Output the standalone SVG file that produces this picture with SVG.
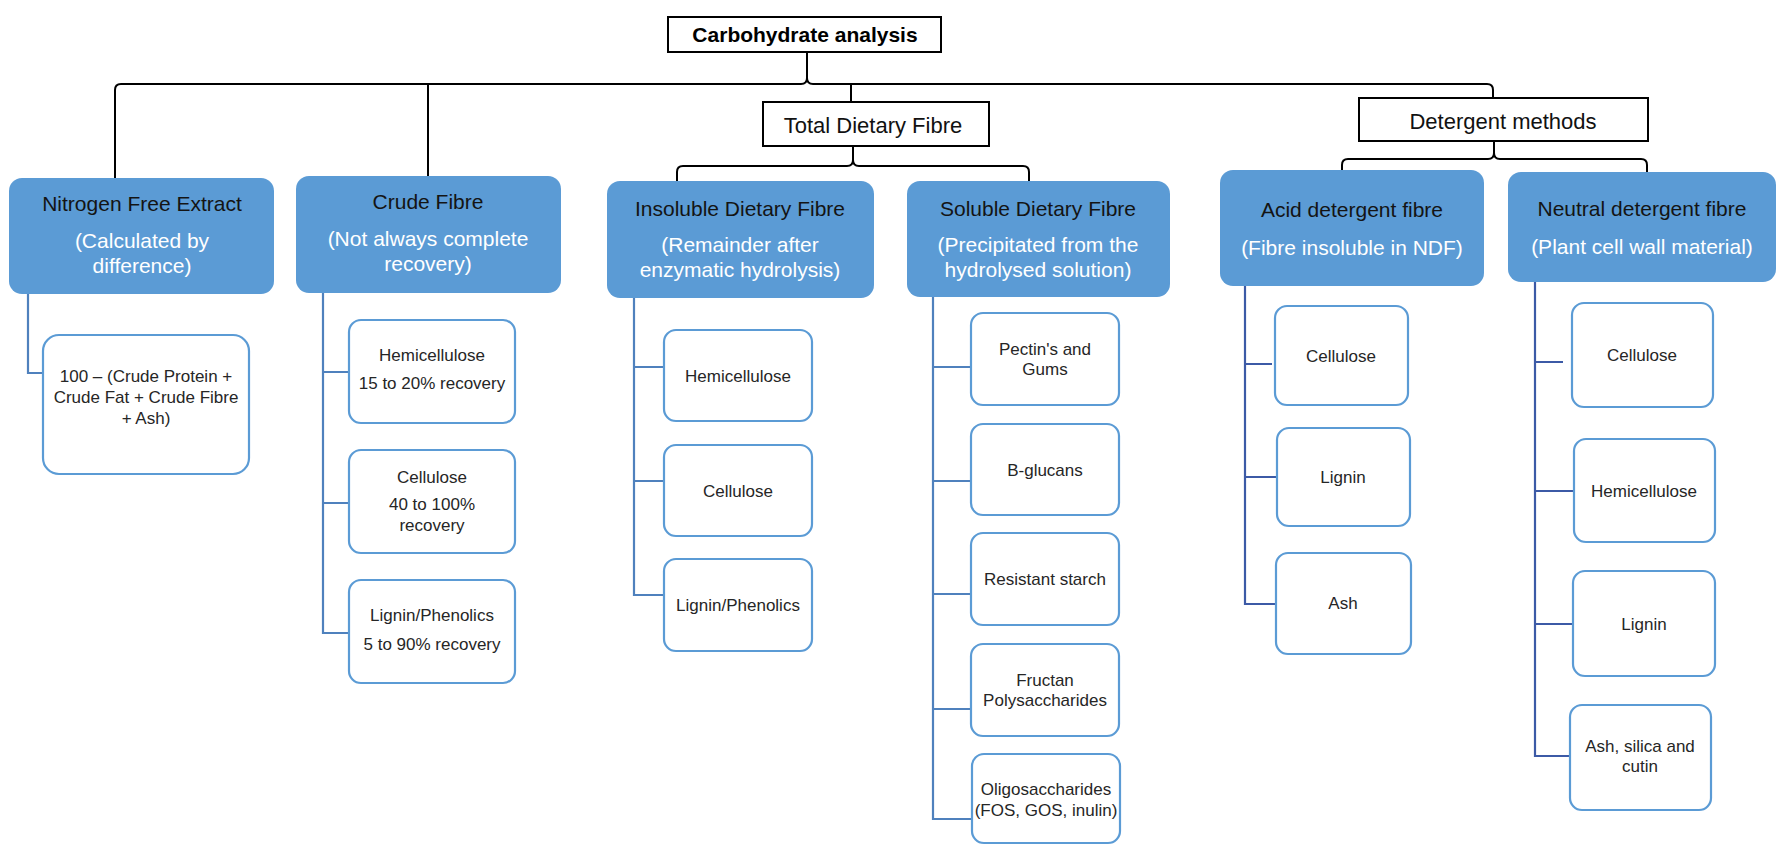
<svg xmlns="http://www.w3.org/2000/svg" width="1780" height="846" viewBox="0 0 1780 846">
  <style>
    text { font-family: "Liberation Sans", Arial, sans-serif; text-anchor: middle; }
    .root { fill: #fff; stroke: #000; stroke-width: 2; }
    .root-t { font-size: 21px; font-weight: bold; fill: #000; }
    .group { fill: #fff; stroke: #000; stroke-width: 2; }
    .group-t { font-size: 22px; fill: #111; }
    .head { fill: #5B9BD5; stroke: none; }
    .head-t { font-size: 21px; fill: #141414; }
    .head-s { font-size: 21px; fill: #ffffff; }
    .leaf { fill: #fff; stroke: #5B9BD5; stroke-width: 2.2; }
    .leaf-t { font-size: 17px; fill: #262626; }
    .brace { fill: none; stroke: #000; stroke-width: 2; }
    .link { fill: none; stroke: #4F81BD; stroke-width: 2.2; }
    .link2 { fill: none; stroke: #3C5AA6; stroke-width: 2.2; }
  </style>

  <!-- connectors -->
  <g id="connectors">
    <!-- top brace -->
    <path class="brace" d="M115,178 L115,90 Q115,84 121,84 L801,84 Q807,84 807,78 L807,52 M807,78 Q807,84 813,84 L1487,84 Q1493,84 1493,90 L1493,98"/>
    <path class="brace" d="M428,84 L428,176"/>
    <path class="brace" d="M851,84 L851,102"/>
    <!-- total dietary fibre brace -->
    <path class="brace" d="M677,181 L677,172 Q677,166 683,166 L847,166 Q853,166 853,160 L853,146 M853,160 Q853,166 859,166 L1023,166 Q1029,166 1029,172 L1029,181"/>
    <!-- detergent methods brace -->
    <path class="brace" d="M1342,170 L1342,165 Q1342,159 1348,159 L1488,159 Q1494,159 1494,153 L1494,141 M1494,153 Q1494,159 1500,159 L1641,159 Q1647,159 1647,165 L1647,172"/>

    <!-- nitrogen free extract -->
    <path class="link" d="M28,293 L28,373 L43,373"/>
    <!-- crude fibre -->
    <path class="link" d="M323,292 L323,633 L349,633 M323,372 L349,372 M323,503 L349,503"/>
    <!-- insoluble dietary fibre -->
    <path class="link" d="M634,297 L634,595 L664,595 M634,367 L664,367 M634,481 L664,481"/>
    <!-- soluble dietary fibre -->
    <path class="link" d="M933,297 L933,819 L972,819 M933,367 L971,367 M933,481 L971,481 M933,594 L971,594 M933,709 L971,709"/>
    <!-- acid detergent fibre -->
    <path class="link2" d="M1245,284 L1245,604 L1276,604 M1245,364 L1272,364 M1245,477 L1277,477"/>
    <!-- neutral detergent fibre -->
    <path class="link2" d="M1535,281 L1535,756 L1570,756 M1535,362 L1563,362 M1535,491 L1574,491 M1535,624 L1573,624"/>
  </g>

  <!-- root -->
  <g id="carbohydrate-analysis">
    <rect class="root" x="668" y="17" width="273" height="35"/>
    <text class="root-t" x="805" y="42">Carbohydrate analysis</text>
  </g>

  <!-- group boxes -->
  <g id="total-dietary-fibre">
    <rect class="group" x="763" y="102" width="226" height="44"/>
    <text class="group-t" x="873" y="133">Total Dietary Fibre</text>
  </g>
  <g id="detergent-methods">
    <rect class="group" x="1359" y="98" width="289" height="43"/>
    <text class="group-t" x="1503" y="129">Detergent methods</text>
  </g>

  <!-- method headers -->
  <g id="nitrogen-free-extract">
    <rect class="head" x="9" y="178" width="265" height="116" rx="13"/>
    <text class="head-t" x="142" y="211">Nitrogen Free Extract</text>
    <text class="head-s" x="142" y="248">(Calculated by</text>
    <text class="head-s" x="142" y="273">difference)</text>
  </g>
  <g id="crude-fibre">
    <rect class="head" x="296" y="176" width="265" height="117" rx="13"/>
    <text class="head-t" x="428" y="209">Crude Fibre</text>
    <text class="head-s" x="428" y="246">(Not always complete</text>
    <text class="head-s" x="428" y="271">recovery)</text>
  </g>
  <g id="insoluble-dietary-fibre">
    <rect class="head" x="607" y="181" width="267" height="117" rx="13"/>
    <text class="head-t" x="740" y="216">Insoluble Dietary Fibre</text>
    <text class="head-s" x="740" y="252">(Remainder after</text>
    <text class="head-s" x="740" y="277">enzymatic hydrolysis)</text>
  </g>
  <g id="soluble-dietary-fibre">
    <rect class="head" x="907" y="181" width="263" height="116" rx="13"/>
    <text class="head-t" x="1038" y="216">Soluble Dietary Fibre</text>
    <text class="head-s" x="1038" y="252">(Precipitated from the</text>
    <text class="head-s" x="1038" y="277">hydrolysed solution)</text>
  </g>
  <g id="acid-detergent-fibre">
    <rect class="head" x="1220" y="170" width="264" height="116" rx="13"/>
    <text class="head-t" x="1352" y="217">Acid detergent fibre</text>
    <text class="head-s" x="1352" y="255">(Fibre insoluble in NDF)</text>
  </g>
  <g id="neutral-detergent-fibre">
    <rect class="head" x="1508" y="172" width="268" height="110" rx="13"/>
    <text class="head-t" x="1642" y="216">Neutral detergent fibre</text>
    <text class="head-s" x="1642" y="254">(Plant cell wall material)</text>
  </g>

  <!-- nitrogen free extract item -->
  <g id="nfe-formula">
    <rect class="leaf" x="43" y="335" width="206" height="139" rx="16"/>
    <text class="leaf-t" x="146" y="382">100 – (Crude Protein +</text>
    <text class="leaf-t" x="146" y="403">Crude Fat + Crude Fibre</text>
    <text class="leaf-t" x="146" y="424">+ Ash)</text>
  </g>

  <!-- crude fibre items -->
  <g id="cf-hemicellulose">
    <rect class="leaf" x="349" y="320" width="166" height="103" rx="12"/>
    <text class="leaf-t" x="432" y="361">Hemicellulose</text>
    <text class="leaf-t" x="432" y="389">15 to 20% recovery</text>
  </g>
  <g id="cf-cellulose">
    <rect class="leaf" x="349" y="450" width="166" height="103" rx="12"/>
    <text class="leaf-t" x="432" y="483">Cellulose</text>
    <text class="leaf-t" x="432" y="510">40 to 100%</text>
    <text class="leaf-t" x="432" y="531">recovery</text>
  </g>
  <g id="cf-lignin">
    <rect class="leaf" x="349" y="580" width="166" height="103" rx="12"/>
    <text class="leaf-t" x="432" y="621">Lignin/Phenolics</text>
    <text class="leaf-t" x="432" y="650">5 to 90% recovery</text>
  </g>

  <!-- insoluble dietary fibre items -->
  <g id="idf-hemicellulose">
    <rect class="leaf" x="664" y="330" width="148" height="91" rx="12"/>
    <text class="leaf-t" x="738" y="382">Hemicellulose</text>
  </g>
  <g id="idf-cellulose">
    <rect class="leaf" x="664" y="445" width="148" height="91" rx="12"/>
    <text class="leaf-t" x="738" y="497">Cellulose</text>
  </g>
  <g id="idf-lignin">
    <rect class="leaf" x="664" y="559" width="148" height="92" rx="12"/>
    <text class="leaf-t" x="738" y="611">Lignin/Phenolics</text>
  </g>

  <!-- soluble dietary fibre items -->
  <g id="sdf-pectins">
    <rect class="leaf" x="971" y="313" width="148" height="92" rx="12"/>
    <text class="leaf-t" x="1045" y="355">Pectin's and</text>
    <text class="leaf-t" x="1045" y="375">Gums</text>
  </g>
  <g id="sdf-bglucans">
    <rect class="leaf" x="971" y="424" width="148" height="91" rx="12"/>
    <text class="leaf-t" x="1045" y="476">B-glucans</text>
  </g>
  <g id="sdf-starch">
    <rect class="leaf" x="971" y="533" width="148" height="92" rx="12"/>
    <text class="leaf-t" x="1045" y="585">Resistant starch</text>
  </g>
  <g id="sdf-fructan">
    <rect class="leaf" x="971" y="644" width="148" height="92" rx="12"/>
    <text class="leaf-t" x="1045" y="686">Fructan</text>
    <text class="leaf-t" x="1045" y="706">Polysaccharides</text>
  </g>
  <g id="sdf-oligosaccharides">
    <rect class="leaf" x="972" y="754" width="148" height="89" rx="12"/>
    <text class="leaf-t" x="1046" y="795">Oligosaccharides</text>
    <text class="leaf-t" x="1046" y="816">(FOS, GOS, inulin)</text>
  </g>

  <!-- acid detergent fibre items -->
  <g id="adf-cellulose">
    <rect class="leaf" x="1275" y="306" width="133" height="99" rx="12"/>
    <text class="leaf-t" x="1341" y="362">Cellulose</text>
  </g>
  <g id="adf-lignin">
    <rect class="leaf" x="1277" y="428" width="133" height="98" rx="12"/>
    <text class="leaf-t" x="1343" y="483">Lignin</text>
  </g>
  <g id="adf-ash">
    <rect class="leaf" x="1276" y="553" width="135" height="101" rx="12"/>
    <text class="leaf-t" x="1343" y="609">Ash</text>
  </g>

  <!-- neutral detergent fibre items -->
  <g id="ndf-cellulose">
    <rect class="leaf" x="1572" y="303" width="141" height="104" rx="12"/>
    <text class="leaf-t" x="1642" y="361">Cellulose</text>
  </g>
  <g id="ndf-hemicellulose">
    <rect class="leaf" x="1574" y="439" width="141" height="103" rx="12"/>
    <text class="leaf-t" x="1644" y="497">Hemicellulose</text>
  </g>
  <g id="ndf-lignin">
    <rect class="leaf" x="1573" y="571" width="142" height="105" rx="12"/>
    <text class="leaf-t" x="1644" y="630">Lignin</text>
  </g>
  <g id="ndf-ash">
    <rect class="leaf" x="1570" y="705" width="141" height="105" rx="12"/>
    <text class="leaf-t" x="1640" y="752">Ash, silica and</text>
    <text class="leaf-t" x="1640" y="772">cutin</text>
  </g>
</svg>
